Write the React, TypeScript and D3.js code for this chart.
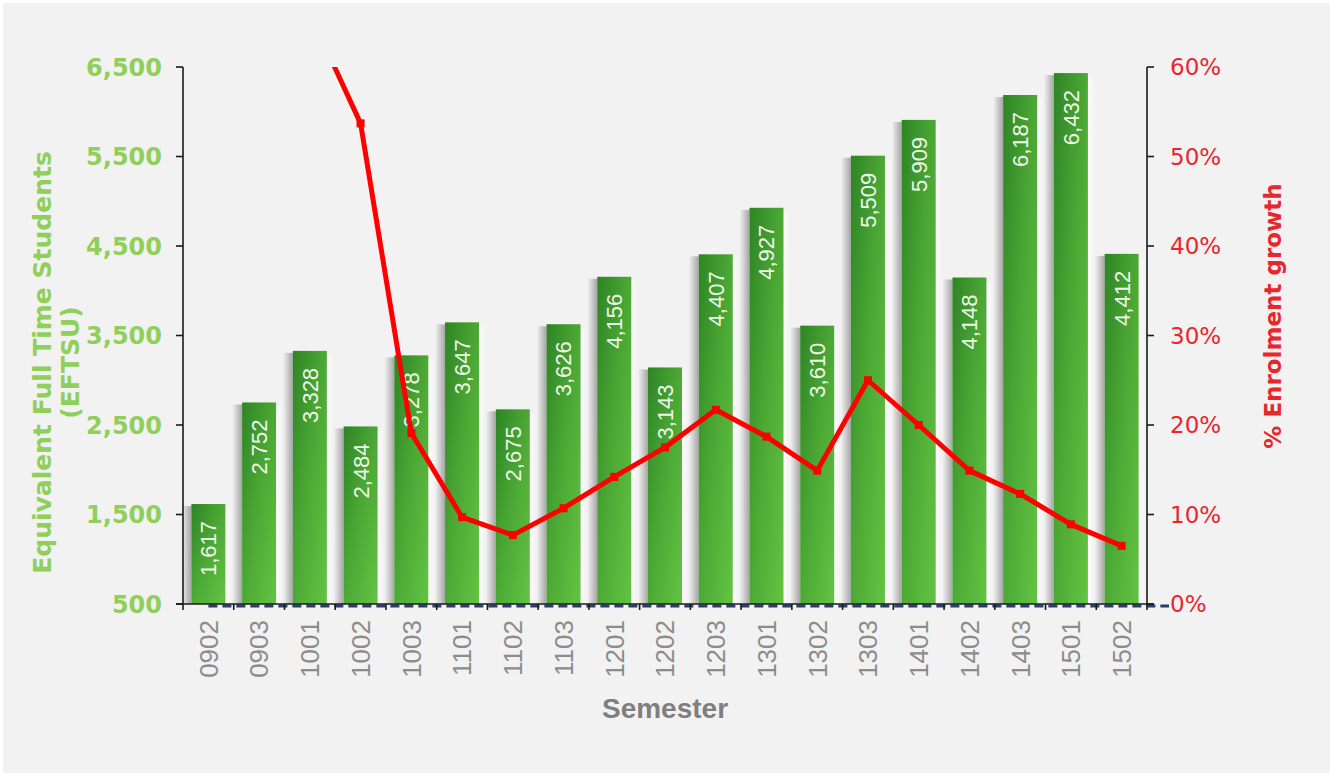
import React, { useEffect, useRef } from 'react';
import * as d3 from 'd3';

const semesters = ['0902', '0903', '1001', '1002', '1003', '1101', '1102', '1103', '1201', '1202',
  '1203', '1301', '1302', '1303', '1401', '1402', '1403', '1501', '1502'];
const eftsu = [1617, 2752, 3328, 2484, 3278, 3647, 2675, 3626, 4156, 3143,
  4407, 4927, 3610, 5509, 5909, 4148, 6187, 6432, 4412];
// growth in %, first two semesters have no value
const growth: (number | null)[] = [null, null, 66, 53.7, 19.1, 9.7, 7.7, 10.7, 14.2, 17.5,
  21.7, 18.7, 14.9, 25.0, 20.0, 14.9, 12.3, 8.9, 6.5];
const leftTicks = [500, 1500, 2500, 3500, 4500, 5500, 6500];
const rightTicks = [0, 10, 20, 30, 40, 50, 60];

const W = 1333;
const H = 776;

export default function App() {
  const ref = useRef<SVGSVGElement>(null);

  useEffect(() => {
    const svg = d3.select(ref.current);
    svg.selectAll('*').remove();

    const margin = { top: 67, right: 186, bottom: 172, left: 183 };
    const x0 = margin.left;
    const x1 = W - margin.right;
    const yTop = margin.top;
    const yBot = H - margin.bottom;

    const x = d3.scaleBand<string>()
      .domain(semesters)
      .range([x0, x1])
      .paddingInner(0.33)
      .paddingOuter(0.165);
    const y = d3.scaleLinear().domain([500, 6500]).range([yBot, yTop]);
    const y2 = d3.scaleLinear().domain([0, 60]).range([yBot, yTop]);

    const defs = svg.append('defs');
    const bg = defs.append('linearGradient').attr('id', 'barGrad')
      .attr('x1', 0).attr('y1', 0).attr('x2', 1).attr('y2', 1);
    bg.append('stop').attr('offset', '0%').attr('stop-color', '#2e8424');
    bg.append('stop').attr('offset', '45%').attr('stop-color', '#4aa634');
    bg.append('stop').attr('offset', '100%').attr('stop-color', '#63c443');

    const sh = defs.append('linearGradient').attr('id', 'shadowGrad')
      .attr('x1', 0).attr('y1', 0).attr('x2', 1).attr('y2', 0);
    sh.append('stop').attr('offset', '0%').attr('stop-color', '#000').attr('stop-opacity', 0);
    sh.append('stop').attr('offset', '100%').attr('stop-color', '#000').attr('stop-opacity', 0.32);

    const hl = defs.append('linearGradient').attr('id', 'hlGrad')
      .attr('x1', 0).attr('y1', 0).attr('x2', 1).attr('y2', 0);
    hl.append('stop').attr('offset', '0%').attr('stop-color', '#fff').attr('stop-opacity', 0.9);
    hl.append('stop').attr('offset', '100%').attr('stop-color', '#fff').attr('stop-opacity', 0);

    defs.append('clipPath').attr('id', 'plotClip')
      .append('rect').attr('x', x0).attr('y', yTop).attr('width', x1 - x0 + 30).attr('height', yBot - yTop);

    svg.append('rect').attr('width', W).attr('height', H).attr('fill', '#ffffff');
    svg.append('rect').attr('x', 3).attr('y', 3).attr('width', W - 6).attr('height', H - 6).attr('fill', '#f2f2f2');

    // bars with soft shadow
    const bars = svg.append('g');
    semesters.forEach((s, i) => {
      const bx = x(s)!;
      const bw = x.bandwidth();
      const top = y(eftsu[i]);
      bars.append('rect')
        .attr('x', bx - 10).attr('y', top + 2).attr('width', 10).attr('height', yBot - top - 2)
        .attr('fill', 'url(#shadowGrad)');
      bars.append('rect')
        .attr('x', bx + bw).attr('y', top + 4).attr('width', 6).attr('height', yBot - top - 4)
        .attr('fill', 'url(#hlGrad)');
      bars.append('rect')
        .attr('x', bx).attr('y', top).attr('width', bw).attr('height', yBot - top)
        .attr('fill', 'url(#barGrad)');
      bars.append('text')
        .attr('transform', `translate(${bx + bw / 2},${top + 17}) rotate(-90)`)
        .attr('text-anchor', 'end')
        .attr('dy', '0.36em')
        .attr('fill', '#eef8e8')
        .attr('font-family', 'Liberation Sans, Arial, sans-serif')
        .attr('font-size', 22)
        .text(d3.format(',')(eftsu[i]));
    });

    // dashed zero line of the growth series
    svg.append('line')
      .attr('x1', x(semesters[0])! + x.bandwidth() / 2).attr('x2', x1 + 22)
      .attr('y1', yBot + 2).attr('y2', yBot + 2)
      .attr('stroke', '#243f78').attr('stroke-width', 3).attr('stroke-dasharray', '9,5');

    // axes
    const axis = svg.append('g').attr('stroke', '#1a1a1a').attr('stroke-width', 1.6);
    axis.append('line').attr('x1', x0).attr('x2', x0).attr('y1', yTop).attr('y2', yBot);
    axis.append('line').attr('x1', x1).attr('x2', x1).attr('y1', yTop).attr('y2', yBot);
    axis.append('line').attr('x1', x0 - 7).attr('x2', x1 + 7).attr('y1', yBot).attr('y2', yBot);
    leftTicks.forEach(t => {
      axis.append('line').attr('x1', x0 - 7).attr('x2', x0).attr('y1', y(t)).attr('y2', y(t));
    });
    rightTicks.forEach(t => {
      axis.append('line').attr('x1', x1).attr('x2', x1 + 7).attr('y1', y2(t)).attr('y2', y2(t));
    });
    for (let i = 0; i <= semesters.length; i++) {
      const tx = x0 + i * x.step();
      axis.append('line').attr('x1', tx).attr('x2', tx).attr('y1', yBot).attr('y2', yBot + 6);
    }

    svg.append('g').selectAll('text').data(leftTicks).join('text')
      .attr('x', x0 - 21).attr('y', d => y(d)).attr('dy', '0.36em')
      .attr('text-anchor', 'end')
      .attr('fill', '#8fcf5a')
      .attr('font-family', 'DejaVu Sans, Verdana, sans-serif')
      .attr('font-weight', 'bold')
      .attr('font-size', 24)
      .text(d => d3.format(',')(d));

    svg.append('g').selectAll('text').data(rightTicks).join('text')
      .attr('x', x1 + 23).attr('y', d => y2(d)).attr('dy', '0.36em')
      .attr('fill', '#e8262d')
      .attr('font-family', 'DejaVu Sans, Tahoma, sans-serif')
      .attr('font-size', 23)
      .text(d => d + '%');

    svg.append('g').selectAll('text').data(semesters).join('text')
      .attr('transform', d => `translate(${x(d)! + x.bandwidth() / 2},${yBot + 16}) rotate(-90)`)
      .attr('text-anchor', 'end')
      .attr('dy', '0.36em')
      .attr('fill', '#8c8c8c')
      .attr('font-family', 'Liberation Sans, Arial, sans-serif')
      .attr('font-size', 26)
      .text(d => d);

    // axis titles
    const ltitle = svg.append('text')
      .attr('transform', `translate(42,${(yTop + yBot) / 2 + 27}) rotate(-90)`)
      .attr('text-anchor', 'middle')
      .attr('fill', '#8fcf5a')
      .attr('font-family', 'DejaVu Sans, Verdana, sans-serif')
      .attr('font-weight', 'bold')
      .attr('font-size', 25);
    ltitle.append('tspan').attr('x', 0).attr('dy', '0.36em').text('Equivalent Full Time Students');
    ltitle.append('tspan').attr('x', 0).attr('dy', '1.1em').text('(EFTSU)');

    svg.append('text')
      .attr('transform', `translate(1273,316) rotate(-90)`)
      .attr('text-anchor', 'middle')
      .attr('dy', '0.36em')
      .attr('fill', '#e8262d')
      .attr('font-family', 'DejaVu Sans, Tahoma, sans-serif')
      .attr('font-weight', 600)
      .attr('font-size', 23)
      .text('% Enrolment growth');

    svg.append('text')
      .attr('x', (x0 + x1) / 2).attr('y', 718)
      .attr('text-anchor', 'middle')
      .attr('fill', '#7f7f7f')
      .attr('font-family', 'Liberation Sans, Arial, sans-serif')
      .attr('font-weight', 'bold')
      .attr('font-size', 28)
      .text('Semester');

    // growth line
    const pts = semesters
      .map((s, i) => ({ s, v: growth[i] }))
      .filter(d => d.v !== null) as { s: string; v: number }[];
    const line = d3.line<{ s: string; v: number }>()
      .x(d => x(d.s)! + x.bandwidth() / 2)
      .y(d => y2(d.v));
    const lg = svg.append('g').attr('clip-path', 'url(#plotClip)');
    lg.append('path')
      .datum(pts)
      .attr('fill', 'none')
      .attr('stroke', '#ff0000')
      .attr('stroke-width', 5)
      .attr('stroke-linejoin', 'round')
      .attr('d', line);
    lg.selectAll('rect.mk').data(pts).join('rect')
      .attr('class', 'mk')
      .attr('x', d => x(d.s)! + x.bandwidth() / 2 - 4)
      .attr('y', d => y2(d.v) - 4)
      .attr('width', 8).attr('height', 8)
      .attr('fill', '#ff0000');
  }, []);

  return (
    <div style={{ position: 'fixed', left: 0, top: 0 }}>
      <svg ref={ref} width={W} height={H} style={{ display: 'block' }} />
    </div>
  );
}
